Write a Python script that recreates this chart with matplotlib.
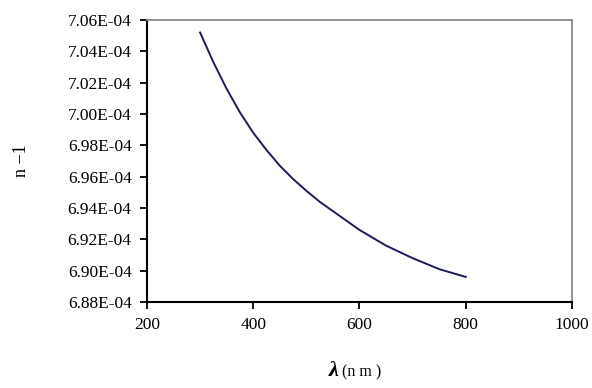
import matplotlib
matplotlib.use("Agg")
import matplotlib.pyplot as plt
from matplotlib.ticker import FuncFormatter

wavelength_nm = [300, 325, 350, 375, 400, 425, 450, 475, 500, 525, 550, 575, 600,
                 625, 650, 675, 700, 725, 750, 775, 800]
n_minus_1_e4 = [7.052, 7.033, 7.016, 7.001, 6.988, 6.977, 6.967, 6.9585, 6.951, 6.944,
                6.938, 6.932, 6.926, 6.921, 6.916, 6.912, 6.908, 6.9045, 6.901, 6.8985, 6.896]
n_minus_1 = [v * 1e-4 for v in n_minus_1_e4]

x_ticks = [200, 400, 600, 800, 1000]
y_ticks_e4 = [6.88, 6.90, 6.92, 6.94, 6.96, 6.98, 7.00, 7.02, 7.04, 7.06]
y_ticks = [v * 1e-4 for v in y_ticks_e4]

plt.rcParams['font.family'] = ['Liberation Serif', 'DejaVu Serif']

fig = plt.figure(figsize=(5.92, 3.88), dpi=100)
ax = fig.add_axes([0.2483, 0.2216, 0.9662 - 0.2483, 0.9485 - 0.2216])

ax.plot(wavelength_nm, n_minus_1, color='#1c1c5c', linewidth=1.4)

ax.set_xlim(200, 1000)
ax.set_ylim(y_ticks[0], y_ticks[-1])
ax.set_xticks(x_ticks)
ax.set_yticks(y_ticks)
ax.yaxis.set_major_formatter(FuncFormatter(lambda v, p: f"{v:.2E}"))

ax.tick_params(axis='both', direction='out', length=5, width=1.3, labelsize=12.5, pad=6, colors='black')
for s in ['left', 'bottom']:
    ax.spines[s].set_linewidth(1.5)
    ax.spines[s].set_color('black')
for s in ['top', 'right']:
    ax.spines[s].set_linewidth(1.3)
    ax.spines[s].set_color('#8a8a8a')

fig.text(0.572, 0.030, 'λ', fontsize=16, fontweight='bold', fontstyle='italic', ha='right', va='baseline')
fig.text(0.578, 0.030, '(n m )', fontsize=11.5, ha='left', va='baseline')
fig.text(0.036, 0.585, 'n −1', fontsize=13, rotation=90, ha='center', va='center')

fig.savefig('out.png', dpi=100)
